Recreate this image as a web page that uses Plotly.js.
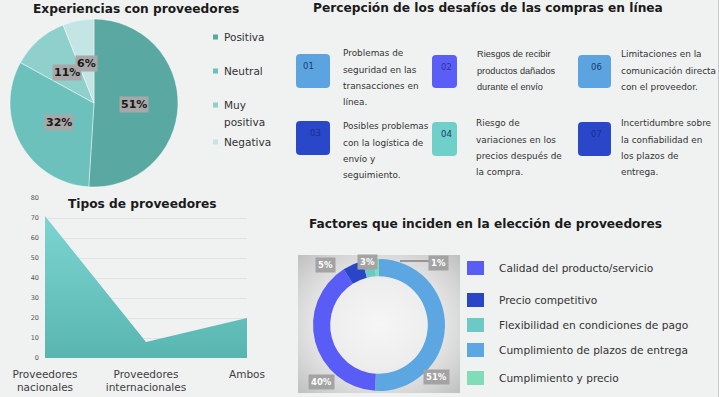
<!DOCTYPE html>
<html><head><meta charset="utf-8">
<script src="https://cdn.plot.ly/plotly-3.0.1.min.js"></script>
<style>html,body{margin:0;padding:0;background:#f0f1f1;}#chart{width:719px;height:397px;}</style>
</head><body><div id="chart"></div>
<script>
// ---------- DATA ----------
const expLabels = ['Positiva', 'Neutral', 'Muy positiva', 'Negativa'];
const expValues = [51, 32, 11, 6];
const expColors = ['#5aa8a2', '#6cc1bd', '#8fd0cd', '#c3e5e3'];

const tipoCategories = ['Proveedores<br>nacionales', 'Proveedores<br>internacionales', 'Ambos'];
const tipoValues = [71, 8, 20];
const tipoTicks = [0, 10, 20, 30, 40, 50, 60, 70, 80];

const factorLabels = ['Calidad del producto/servicio', 'Precio competitivo', 'Flexibilidad en condiciones de pago', 'Cumplimiento de plazos de entrega', 'Cumplimiento y precio'];
const factorValues = [40, 5, 3, 51, 1];
const factorColors = ['#5a5cf6', '#2a46c6', '#6cc9c4', '#5ca6e2', '#80dcb9'];
const factorSliceOrder = [3, 0, 1, 2, 4]; // clockwise from 12 o'clock

const desafioNums = ['01', '02', '06', '03', '04', '07'];
const desafioTexts = [
  ['Problemas de', 'seguridad en las', 'transacciones en', 'línea.'],
  ['Riesgos de recibir', 'productos dañados', 'durante el envío'],
  ['Limitaciones en la', 'comunicación directa', 'con el proveedor.'],
  ['Posibles problemas', 'con la logística de', 'envío y', 'seguimiento.'],
  ['Riesgo de', 'variaciones en los', 'precios después de', 'la compra.'],
  ['Incertidumbre sobre', 'la confiabilidad en', 'los plazos de', 'entrega.']
];
const desafioColors = ['#5ba4e0', '#5a5ef6', '#5ba4e0', '#2b47c9', '#6fcfc9', '#2b47c9'];
const desafioNumColors = ['#1d3a6b', '#2f3296', '#1d3a6b', '#1a2e8c', '#1d3a6b', '#1a2e8c'];

// ---------- LAYOUT HELPERS ----------
const W = 719, H = 397;
const X = x => x / W;
const Y = y => 1 - y / H;
const FONT = 'DejaVu Sans, Verdana, sans-serif';
const NARROW = 'Liberation Sans, Arial, sans-serif';

const annotations = [];
const shapes = [];
function txt(x, y, text, opt) {
  opt = opt || {};
  annotations.push(Object.assign({
    xref: 'paper', yref: 'paper', x: X(x), y: Y(y), text: text, showarrow: false,
    xanchor: 'center', yanchor: 'middle',
    font: {family: FONT, size: 10, color: '#333333'}
  }, opt));
}
function rect(x, y, w, h, color, extra) {
  shapes.push(Object.assign({type: 'rect', xref: 'paper', yref: 'paper',
    x0: X(x), x1: X(x + w), y0: Y(y + h), y1: Y(y), fillcolor: color, line: {width: 0}, layer: 'above'}, extra || {}));
}
function roundRect(x, y, w, h, r, color) {
  const p = (a, b) => X(a) + ',' + Y(b);
  const d = 'M ' + p(x + r, y) + ' L ' + p(x + w - r, y) + ' Q ' + p(x + w, y) + ' ' + p(x + w, y + r) +
    ' L ' + p(x + w, y + h - r) + ' Q ' + p(x + w, y + h) + ' ' + p(x + w - r, y + h) +
    ' L ' + p(x + r, y + h) + ' Q ' + p(x, y + h) + ' ' + p(x, y + h - r) +
    ' L ' + p(x, y + r) + ' Q ' + p(x, y) + ' ' + p(x + r, y) + ' Z';
  shapes.push({type: 'path', xref: 'paper', yref: 'paper', path: d, fillcolor: color, line: {width: 0}, layer: 'above'});
}

// ---------- TITLES ----------
const titleFont = {family: FONT, size: 12.2, color: '#1a1a1a', weight: 'bold'};
txt(136, 9, '<b>Experiencias con proveedores</b>', {font: titleFont});
txt(488, 8, '<b>Percepción de los desafíos de las compras en línea</b>', {font: titleFont});
txt(142, 204, '<b>Tipos de proveedores</b>', {font: titleFont});
txt(485, 224, '<b>Factores que inciden en la elección de proveedores</b>', {font: titleFont});

// ---------- PIE 1 ----------
const pie1 = {cx: 94, cy: 103, r: 84};
const pieTrace = {
  type: 'pie', labels: expLabels, values: expValues, sort: false, direction: 'clockwise', rotation: 0,
  marker: {colors: expColors, line: {color: 'rgba(255,255,255,0.55)', width: 0.8}},
  textinfo: 'none', hoverinfo: 'label+percent', showlegend: false,
  domain: {x: [X(pie1.cx - pie1.r), X(pie1.cx + pie1.r)], y: [Y(pie1.cy + pie1.r), Y(pie1.cy - pie1.r)]}
};
(function () {
  const tot = expValues.reduce((a, b) => a + b, 0);
  let cum = 0;
  expValues.forEach(v => {
    const mid = (cum + v / 2) / tot * 2 * Math.PI;
    cum += v;
    const lr = pie1.r * 0.48;
    txt(pie1.cx + lr * Math.sin(mid), pie1.cy - lr * Math.cos(mid), '<b>' + Math.round(v / tot * 100) + '%</b>',
      {font: {family: FONT, size: 11, color: '#1a1a1a'}, bgcolor: '#a8a8a8', borderpad: 1});
  });
})();
// legend 1
const leg1Y = [37, 71, 105, 142];
expLabels.forEach((lab, i) => {
  rect(213, leg1Y[i] - 2.5, 5, 5, expColors[i]);
  const words = lab.length > 10 ? lab.split(' ') : [lab];
  words.forEach((w, j) => txt(222, leg1Y[i] + j * 17, w, {xanchor: 'left', font: {family: FONT, size: 10.5, color: '#333333'}}));
});

// ---------- AREA ----------
const areaTrace = {
  type: 'scatter', mode: 'lines', x: tipoCategories, y: tipoValues, fill: 'tozeroy',
  line: {width: 0, color: '#6cc9c4'},
  fillgradient: {type: 'vertical', colorscale: [[0, '#58b6b1'], [1, '#7dd4d0']]},
  showlegend: false, xaxis: 'x', yaxis: 'y'
};

// ---------- DONUT ----------
const don = {cx: 379, cy: 325, r: 66};
const donutTrace = {
  type: 'pie', hole: 0.74, sort: false, direction: 'clockwise', rotation: 0,
  labels: factorSliceOrder.map(i => factorLabels[i]),
  values: factorSliceOrder.map(i => factorValues[i]),
  marker: {colors: factorSliceOrder.map(i => factorColors[i]), line: {width: 0}},
  textinfo: 'none', hoverinfo: 'label+percent', showlegend: false,
  domain: {x: [X(don.cx - don.r), X(don.cx + don.r)], y: [Y(don.cy + don.r), Y(don.cy - don.r)]}
};
const donutLabelPos = [[321, 382], [325, 265], [367, 262], [436, 377], [438, 263]];
factorValues.forEach((v, i) => {
  txt(donutLabelPos[i][0], donutLabelPos[i][1], '<b>' + v + '%</b>',
    {font: {family: FONT, size: 8.5, color: '#ffffff'}, bgcolor: '#a3a3a3', borderpad: 2});
});
shapes.push({type: 'line', xref: 'paper', yref: 'paper', x0: X(400), x1: X(430), y0: Y(261), y1: Y(261), line: {color: '#555555', width: 1}, layer: 'above'});
// legend 2
const leg2Y = [268, 300, 325, 350, 378];
factorLabels.forEach((lab, i) => {
  rect(467, leg2Y[i] - 7, 17, 14, factorColors[i]);
  txt(497, leg2Y[i], lab, {xanchor: 'left', font: {family: FONT, size: 10.6, color: '#333333'}});
});

// ---------- CARDS ----------
const cardBoxes = [[296, 54, 34, 34], [432, 55, 25, 33], [578, 55, 33, 33], [296, 121, 34, 34], [432, 122, 25, 34], [578, 122, 33, 34]];
const cardText = [[341, 53], [475, 54], [619, 54], [341, 126], [474, 123], [619, 123]];
desafioNums.forEach((n, i) => {
  const b = cardBoxes[i];
  roundRect(b[0], b[1], b[2], b[3], 4, desafioColors[i]);
  const nx = i === 0 ? b[0] + 5 : b[0] + b[2] / 2 + 2;
  txt(nx, b[1] + 12, n, {xanchor: i === 0 ? 'left' : 'center', font: {family: FONT, size: 8.5, color: desafioNumColors[i]}});
  desafioTexts[i].forEach((line, j) => {
    txt(cardText[i][0], cardText[i][1] + j * 16.5, line, {xanchor: 'left',
      font: i === 1 ? {family: NARROW, size: 9.2, color: '#333333'} : {family: FONT, size: 8.9, color: '#333333'}});
  });
});

// right border
shapes.push({type: 'line', xref: 'paper', yref: 'paper', x0: X(718.5), x1: X(718.5), y0: 0, y1: 1, line: {color: '#c8c8c8', width: 1}});

// donut background
const bgSvg = "<svg xmlns='http://www.w3.org/2000/svg' width='162' height='138'><defs><radialGradient id='g' cx='50%' cy='50%' r='72%'><stop offset='0' stop-color='#f6f6f6'/><stop offset='0.45' stop-color='#ededed'/><stop offset='0.78' stop-color='#d3d3d3'/><stop offset='1' stop-color='#bdbdbd'/></radialGradient></defs><rect width='162' height='138' fill='url(#g)'/></svg>";

const layout = {
  width: W, height: H, margin: {l: 0, r: 0, t: 0, b: 0},
  paper_bgcolor: '#f0f1f1', plot_bgcolor: 'rgba(0,0,0,0)',
  showlegend: false,
  xaxis: {domain: [X(45), X(247)], range: [0, 2], type: 'category', showgrid: false, zeroline: false, showline: false,
    ticks: '', ticklabelstandoff: 8, tickfont: {family: FONT, size: 10.5, color: '#404040'}, fixedrange: true},
  yaxis: {domain: [Y(358), Y(198)], range: [0, 80], tickvals: tipoTicks, showgrid: true, gridcolor: '#e2e2e2', gridwidth: 1,
    zeroline: false, showline: false, ticks: '', ticklabelstandoff: 5,
    tickfont: {family: FONT, size: 6.5, color: '#555555'}, fixedrange: true},
  images: [{source: 'data:image/svg+xml;base64,' + btoa(bgSvg), xref: 'paper', yref: 'paper',
    x: X(298), y: Y(255), sizex: 162 / W, sizey: 138 / H, xanchor: 'left', yanchor: 'top', sizing: 'stretch', layer: 'below'}],
  shapes: shapes, annotations: annotations
};

Plotly.newPlot('chart', [areaTrace, pieTrace, donutTrace], layout, {displayModeBar: false, staticPlot: true});
</script></body></html>
